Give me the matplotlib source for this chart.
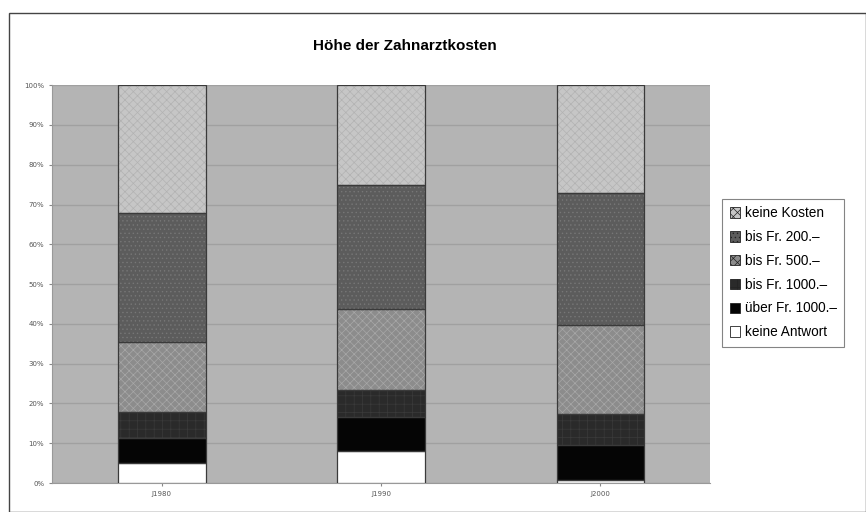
import matplotlib.pyplot as plt
import numpy as np

jahre = ["J1980", "J1990", "J2000"]
kategorien = ["keine Antwort", "über Fr. 1000.–", "bis Fr. 1000.–",
              "bis Fr. 500.–", "bis Fr. 200.–", "keine Kosten"]
keine_antwort = [5.0, 8.0, 0.7]
ueber_1000 = [6.3, 8.6, 8.8]
bis_1000 = [6.5, 6.8, 7.8]
bis_500 = [17.6, 20.3, 22.4]
bis_200 = [32.6, 31.3, 33.2]
keine_kosten = [32.0, 25.0, 27.1]

werte = [keine_antwort, ueber_1000, bis_1000, bis_500, bis_200, keine_kosten]
farben = ["#ffffff", "#050505", "#2a2a2a", "#8c8c8c", "#5c5c5c", "#c6c6c6"]
hatch_farben = ["#ffffff", "#050505", "#3a3a3a", "#a8a8a8", "#777777", "#b2b2b2"]
hatches = [None, None, "++", "xxxx", "....", "xxxx"]

plt.rcParams["hatch.linewidth"] = 0.5

fig = plt.figure(figsize=(8.66, 5.12), dpi=100)
ax = fig.add_axes([0.060, 0.0566, 0.760, 0.777])
ax.set_facecolor("#b4b4b4")

x = np.arange(len(jahre))
unten = np.zeros(len(jahre))
handles = []
for vals, f, hf, h, name in zip(werte, farben, hatch_farben, hatches, kategorien):
    b = ax.bar(x, vals, 0.4, bottom=unten, color=f, hatch=h, edgecolor=hf,
               linewidth=0, zorder=3)
    ax.bar(x, vals, 0.4, bottom=unten, fill=False, edgecolor="#3a3a3a",
           linewidth=0.9, zorder=4)
    handles.append(b)
    unten += np.array(vals)

ax.set_xlim(-0.5, 2.5)
ax.set_ylim(0, 100)
ax.set_yticks(np.arange(0, 101, 10))
ax.set_yticklabels([f"{v}%" for v in range(0, 101, 10)], fontsize=5, color="#555555")
ax.set_xticks(x)
ax.set_xticklabels(jahre, fontsize=5, color="#555555")
ax.yaxis.grid(True, color="#a0a0a0", linewidth=1.0, zorder=0)
ax.set_axisbelow(True)
ax.tick_params(length=2, color="#888888")
for s in ["top", "right"]:
    ax.spines[s].set_visible(False)
ax.spines["left"].set_color("#999999")
ax.spines["bottom"].set_color("#999999")

fig.text(0.468, 0.91, "Höhe der Zahnarztkosten", ha="center", va="center",
         fontsize=11, fontweight="bold", family="Liberation Sans")

leg = fig.legend(handles[::-1], kategorien[::-1], loc="upper left",
                 bbox_to_anchor=(0.826, 0.625), frameon=True,
                 fancybox=False, edgecolor="#666666", handlelength=0.8,
                 handleheight=0.8, handletextpad=0.3, labelspacing=0.72,
                 borderpad=0.55, prop={"family": "Liberation Sans", "size": 9.8})
leg.get_frame().set_linewidth(0.8)
for p in leg.get_patches():
    p.set_edgecolor("#222222")
    p.set_linewidth(0.6)

rand = plt.Rectangle((0.01, 0.0), 0.99, 0.975, transform=fig.transFigure,
                     fill=False, edgecolor="#444444", linewidth=1.0)
fig.patches.append(rand)

fig.savefig("out.png", dpi=100)
